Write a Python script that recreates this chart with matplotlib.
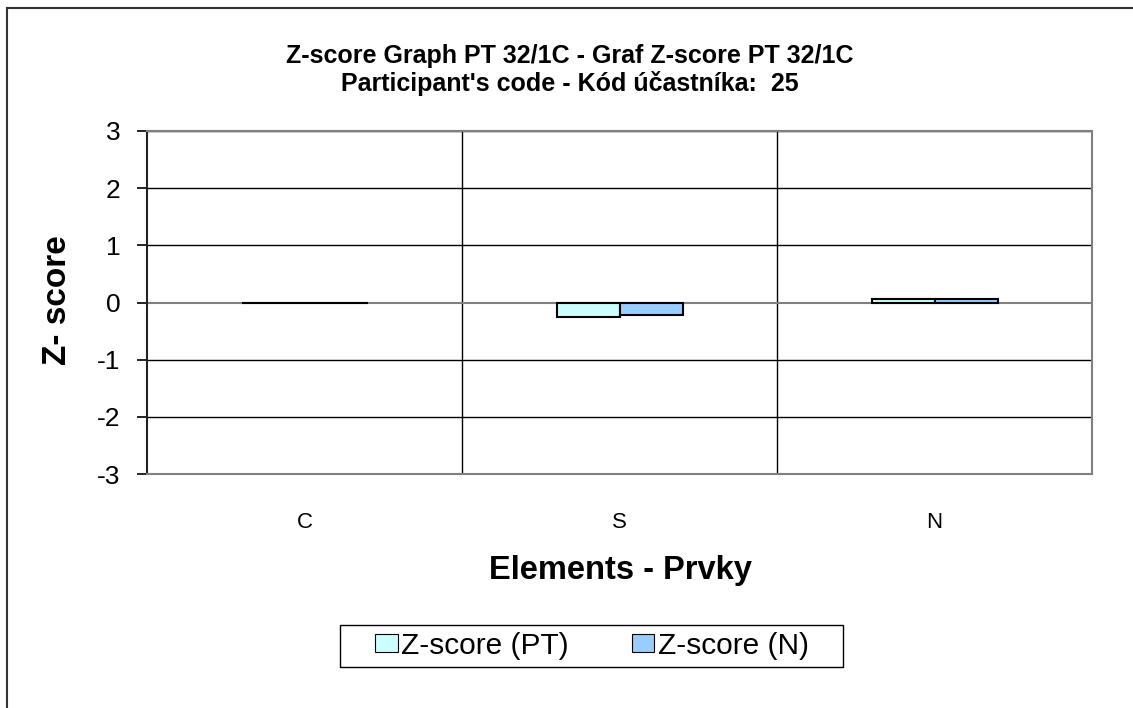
import matplotlib
matplotlib.use("Agg")
import matplotlib.pyplot as plt
import numpy as np
from matplotlib.patches import Rectangle

categories = ["C", "S", "N"]
z_pt = [0.0, -0.26, 0.06]
z_n = [0.0, -0.22, 0.06]
series_labels = ["Z-score (PT)", "Z-score (N)"]
yticks = [-3, -2, -1, 0, 1, 2, 3]
title = "Z-score Graph PT 32/1C - Graf Z-score PT 32/1C\nParticipant's code - Kód účastníka:  25"

plt.rcParams['font.family'] = ['Liberation Sans', 'DejaVu Sans']

fig = plt.figure(figsize=(11.33, 7.08), dpi=100)
W, H = 1133, 708
ax = fig.add_axes([147 / W, 1 - 474 / H, (1092 - 147) / W, (474 - 131) / H])

# outer frame
fig.patches.append(Rectangle((7 / W, -0.05), 1.1, 1 - 8 / H + 0.05, transform=fig.transFigure,
                             fill=False, edgecolor='#333333', linewidth=1.5, zorder=0))

x = np.arange(len(categories))
w = 0.2
ax.bar(x - w / 2, z_pt, width=w, color='#CCFFFF', edgecolor='black', linewidth=1.5,
       label=series_labels[0], zorder=3)
ax.bar(x + w / 2, z_n, width=w, color='#99CCFF', edgecolor='black', linewidth=1.5,
       label=series_labels[1], zorder=3)

ax.set_xlim(-0.5, len(categories) - 0.5)
ax.set_ylim(-3, 3)
ax.set_yticks(yticks)
ax.set_yticklabels([str(v) for v in yticks], fontsize=19)
ax.set_xticks(x)
ax.set_xticklabels(categories, fontsize=16)
ax.tick_params(axis='x', length=0, pad=27)
ax.tick_params(axis='y', length=7, width=1.2, direction='out', pad=12)

for v in yticks:
    if v == 0:
        ax.axhline(v, color='#808080', linewidth=1.5, zorder=2)
    elif v != -3:
        ax.axhline(v, color='black', linewidth=1.0, zorder=1)
for b in [0.5, 1.5]:
    ax.axvline(b, color='black', linewidth=1.0, zorder=1)

for s in ['top', 'right', 'bottom']:
    ax.spines[s].set_color('#808080')
    ax.spines[s].set_linewidth(1.5)
ax.spines['left'].set_color('#222222')
ax.spines['left'].set_linewidth(1.5)

fig.text(570 / W, 1 - 70 / H, title, ha='center', va='center', fontsize=18,
         fontweight='bold', linespacing=1.2)
fig.text(620 / W, 1 - 570 / H, "Elements - Prvky", ha='center', va='center',
         fontsize=23.5, fontweight='bold')
fig.text(57 / W, 1 - 300 / H, "Z- score", ha='center', va='center', rotation=90,
         fontsize=24, fontweight='bold')

# legend frame drawn separately
fig.patches.append(Rectangle((340 / W, 1 - 667 / H), (843 - 340) / W, (667 - 625) / H,
                             transform=fig.transFigure, fill=True, facecolor='white',
                             edgecolor='black', linewidth=1.0, zorder=1))
leg = fig.legend(loc='center', bbox_to_anchor=(592 / W, 1 - 646 / H), ncol=2,
                 fontsize=21.5, frameon=False, handlelength=0.75,
                 handleheight=0.55, handletextpad=0.12, columnspacing=2.1,
                 borderpad=0.1, borderaxespad=0)
leg.set_zorder(5)
for h in leg.legend_handles:
    h.set_linewidth(0.8)

fig.savefig("out.png", dpi=100)
